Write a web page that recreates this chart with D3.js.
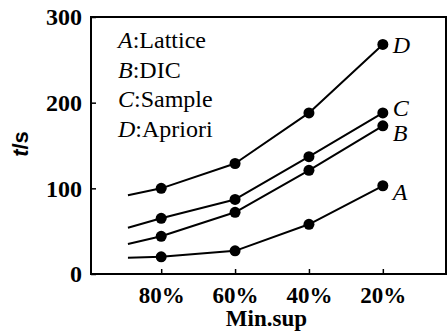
<!DOCTYPE html>
<html>
<head>
<meta charset="utf-8">
<script src="https://cdn.jsdelivr.net/npm/d3@7"></script>
</head>
<body style="margin:0">
<script>
// support levels (first one is the line start, no marker)
var supports = [89, 80, 60, 40, 20];
var tickSupports = [80, 60, 40, 20];
var tickLabels = ["80%", "60%", "40%", "20%"];
var yTicks = [0, 100, 200, 300];

var lattice = [19, 20, 27, 58, 103];
var dic     = [35, 44, 72, 121, 173];
var sample  = [54, 65, 87, 137, 188];
var apriori = [92, 100, 129, 188, 268];

var seriesKeys = ["A", "B", "C", "D"];
var seriesNames = ["Lattice", "DIC", "Sample", "Apriori"];
var seriesValues = [lattice, dic, sample, apriori];

var width = 447, height = 334,
    margin = {top: 17, right: 1, bottom: 60, left: 91},
    w = width - margin.left - margin.right,
    h = height - margin.top - margin.bottom;

var svg = d3.select("body").append("svg").attr("width", width).attr("height", height);
var g = svg.append("g").attr("transform", "translate(" + margin.left + "," + margin.top + ")");

var x = d3.scaleLinear().domain([99, 2.9]).range([0, w]);
var y = d3.scaleLinear().domain([0, 300]).range([h, 0]);

// frame
g.append("rect")
  .attr("width", w).attr("height", h)
  .attr("fill", "none").attr("stroke", "#000").attr("stroke-width", 2);

// x axis
var xAxis = g.append("g")
  .attr("transform", "translate(0," + h + ")")
  .call(d3.axisBottom(x).tickValues(tickSupports).tickSizeInner(-5).tickSizeOuter(0).tickPadding(13)
        .tickFormat(function(d, i) { return tickLabels[i]; }));
xAxis.select(".domain").remove();
xAxis.selectAll("line").attr("stroke-width", 1.5);
xAxis.selectAll("text").attr("font-size", 23).attr("font-weight", "bold");

// y axis
var yAxis = g.append("g")
  .call(d3.axisLeft(y).tickValues(yTicks).tickSizeInner(-5).tickSizeOuter(0).tickPadding(9));
yAxis.select(".domain").remove();
yAxis.selectAll("line").attr("stroke-width", 1.5);
yAxis.selectAll("text").attr("font-size", 24).attr("font-weight", "bold");

// axis titles
svg.append("text")
  .attr("x", margin.left + x(51.5)).attr("y", 326)
  .attr("text-anchor", "middle")
  .attr("font-size", 23).attr("font-weight", "bold")
  .text("Min.sup");

var yt = svg.append("text")
  .attr("class", "sans")
  .attr("transform", "translate(28,144) rotate(-90)")
  .attr("text-anchor", "middle")
  .attr("font-size", 22).attr("font-weight", "bold");
yt.append("tspan").attr("font-style", "italic").text("t");
yt.append("tspan").text("/s");

var line = d3.line()
  .x(function(d, i) { return x(supports[i]); })
  .y(function(d) { return y(d); });

seriesValues.forEach(function(vals, k) {
  g.append("path")
    .datum(vals)
    .attr("fill", "none")
    .attr("stroke", "#000")
    .attr("stroke-width", 2)
    .attr("stroke-linejoin", "round")
    .attr("d", line);

  g.selectAll(".pt" + k)
    .data(vals.slice(1))
    .enter().append("circle")
    .attr("cx", function(d, i) { return x(supports[i + 1]); })
    .attr("cy", function(d) { return y(d); })
    .attr("r", 5.5)
    .attr("fill", "#000");
});

// end labels
var endOffsets = [6, 7, -5, 0];
seriesValues.forEach(function(vals, k) {
  g.append("text")
    .attr("x", x(supports[supports.length - 1]) + 10)
    .attr("y", y(vals[vals.length - 1]) + endOffsets[k])
    .attr("dy", "0.35em")
    .attr("font-size", 24).attr("font-style", "italic")
    .text(seriesKeys[k]);
});

// legend
var legend = g.append("g").attr("transform", "translate(27,31)");
seriesKeys.forEach(function(key, k) {
  var t = legend.append("text")
    .attr("y", k * 29.7)
    .attr("font-size", 24);
  t.append("tspan").attr("font-style", "italic").text(key);
  t.append("tspan").text(":" + seriesNames[k]);
});

// fonts set on every text element directly
svg.selectAll("text")
  .attr("fill", "#000")
  .attr("font-family", function() { return this.getAttribute("class") === "sans" ? "Liberation Sans" : "Liberation Serif"; });
</script>
</body>
</html>
